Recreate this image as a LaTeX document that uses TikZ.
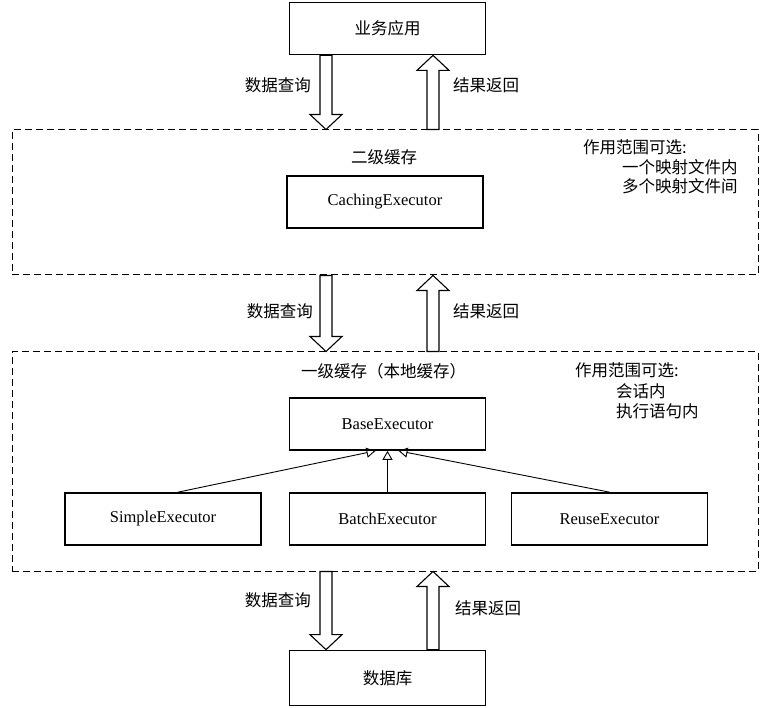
\documentclass[tikz,border=0pt]{standalone}
\usepackage{fontspec}
\setmainfont{Liberation Serif}
\newfontfamily\cjk{Noto Sans CJK SC}
\usetikzlibrary{calc,arrows.meta}
\newcommand\hollowdown[2]{\draw[harrow] let \p1=(#1),\p2=(#2) in
  (\x1-6pt,\y1) -- (\x1-6pt,\y2+15pt) -- (\x1-16pt,\y2+15pt) -- (\x1,\y2) --
  (\x1+16pt,\y2+15pt) -- (\x1+6pt,\y2+15pt) -- (\x1+6pt,\y1) -- cycle;}
\newcommand\hollowup[2]{\draw[harrow] let \p1=(#1),\p2=(#2) in
  (\x1-6pt,\y1) -- (\x1-6pt,\y2-15pt) -- (\x1-16pt,\y2-15pt) -- (\x1,\y2) --
  (\x1+16pt,\y2-15pt) -- (\x1+6pt,\y2-15pt) -- (\x1+6pt,\y1) -- cycle;}
\begin{document}
\begin{tikzpicture}[x=1pt,y=-1pt,
  box/.style={draw,line width=1.7pt,minimum width=196pt,minimum height=52pt,inner sep=0pt,font=\fontsize{16.5}{18}\selectfont},
  cbox/.style={box,font=\cjk\fontsize{16.5}{18}\selectfont},
  dbox/.style={draw,line width=1pt,dash pattern=on 7pt off 4pt,inner sep=0pt},
  lbl/.style={inner sep=0pt,font=\cjk\fontsize{16.5}{18}\selectfont},
  harrow/.style={draw,line width=1.1pt,fill=white,line join=miter},
  gen/.style={line width=0.9pt,-{Triangle[open,length=9pt,width=10pt]}}]
\useasboundingbox (0,0) rectangle (768,708);
% top and bottom
\node[cbox] (app) at (387.5,28.5) {业务应用};
\node[cbox,minimum height=55pt] (db) at (387.5,678) {数据库};
% dashed scopes
\node[dbox,minimum width=746pt,minimum height=145pt] (l2) at (385,202.5) {};
\node[dbox,minimum width=746pt,minimum height=219pt] (l1) at (385,461.5) {};
% level 2 content
\node[lbl] (l2t) at (384,157) {二级缓存};
\node[lbl,anchor=west] (l2s) at (583,147) {作用范围可选:};
\node[lbl,anchor=west] (l2a) at (622,167) {一个映射文件内};
\node[lbl,anchor=west] (l2b) at (622,186) {多个映射文件间};
\node[box] (cach) at (385,202) {CachingExecutor};
% level 1 content
\node[lbl,anchor=west] (l1t) at (301,371) {一级缓存（本地缓存）};
\node[lbl,anchor=west] (l1s) at (575,370) {作用范围可选:};
\node[lbl,anchor=west] (l1a) at (616,391) {会话内};
\node[lbl,anchor=west] (l1b) at (616,411) {执行语句内};
\node[box] (base) at (387.5,424) {BaseExecutor};
\node[box] (simple) at (163,519) {SimpleExecutor};
\node[box] (batch) at (387.5,519) {BatchExecutor};
\node[box] (reuse) at (609.5,519) {ReuseExecutor};
\draw[gen] ($(simple.north)+(15,0)$) -- ($(base.south)+(-12,0)$);
\draw[gen] (batch.north) -- (base.south);
\draw[gen] ($(reuse.north)+(0,0)$) -- ($(base.south)+(11,0)$);
% hollow arrows
\hollowdown{$(app.south)+(-61.5,0)$}{l2.north}
\hollowup{$(l2.north)+(48,0)$}{app.south}
\hollowdown{$(l2.south)+(-59,0)$}{l1.north}
\hollowup{$(l1.north)+(48,0)$}{l2.south}
\hollowdown{$(l1.south)+(-59,0)$}{db.north}
\hollowup{$(db.north)+(45.5,0)$}{l1.south}
% labels
\node[lbl,anchor=east] (q1) at (311,85) {数据查询};
\node[lbl,anchor=west] (r1) at (453,85) {结果返回};
\node[lbl,anchor=east] (q2) at (313,311) {数据查询};
\node[lbl,anchor=west] (r2) at (453,311) {结果返回};
\node[lbl,anchor=east] (q3) at (311,600) {数据查询};
\node[lbl,anchor=west] (r3) at (455,608) {结果返回};
\end{tikzpicture}
\end{document}
